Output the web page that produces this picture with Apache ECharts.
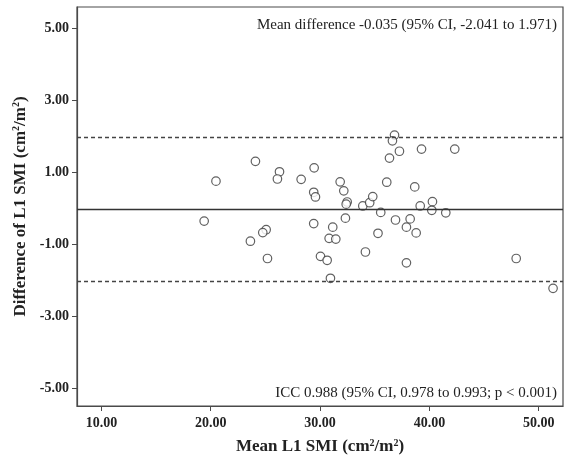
<!DOCTYPE html>
<html>
<head>
<meta charset="utf-8">
<script src="https://cdn.jsdelivr.net/npm/echarts@6/dist/echarts.min.js"></script>
<style>
  html, body { margin: 0; padding: 0; background: #fff; }
  #chart { width: 570px; height: 461px; }
</style>
</head>
<body>
<div id="chart"></div>
<script>
// Bland-Altman data
const meanSmi = [
  19.40, 20.48, 24.09, 26.29, 26.10, 28.27, 23.63, 25.07, 24.76, 25.19,
  29.46, 29.42, 29.58, 31.84, 32.17, 32.48, 32.39, 32.32, 29.42, 31.16,
  30.83, 31.44, 30.04, 30.65, 30.95, 33.91, 34.54, 34.82, 35.55, 35.30,
  34.15, 36.10, 36.90, 36.81, 36.62, 37.26, 36.35, 39.28, 42.32, 38.66,
  39.16, 40.28, 40.22, 41.50, 38.24, 37.90, 38.79, 37.90, 47.94, 51.31
]
const diffSmi = [
  -0.36, 0.75, 1.30, 1.01, 0.81, 0.80, -0.92, -0.60, -0.68, -1.40,
  1.12, 0.44, 0.31, 0.73, 0.48, 0.17, 0.11, -0.28, -0.43, -0.53,
  -0.84, -0.86, -1.34, -1.45, -1.95, 0.06, 0.15, 0.32, -0.12, -0.70,
  -1.22, 0.72, -0.33, 2.03, 1.87, 1.58, 1.39, 1.64, 1.64, 0.59,
  0.06, 0.18, -0.06, -0.13, -0.30, -0.53, -0.69, -1.52, -1.40, -2.23
]
const meanDiff = -0.035
const limitsOfAgreement = [1.971, -2.041]

const xTicks = [10, 20, 30, 40, 50]
const yTicks = [5, 3, 1, -1, -3, -5]

const topNote = 'Mean difference -0.035 (95% CI, -2.041 to 1.971)'
const bottomNote = 'ICC 0.988 (95% CI, 0.978 to 0.993; p < 0.001)'

const serif = '"Liberation Serif", "Times New Roman", serif'
const axisColor = '#4a4a4a'

const chart = echarts.init(document.getElementById('chart'))

const points = meanSmi.map((x, i) => [x, diffSmi[i]])

const supStyle = {
  fontFamily: serif, fontWeight: 'bold', fontSize: 10, color: '#222',
  verticalAlign: 'top', padding: [0, 0, 8, 0]
}

chart.setOption({
  backgroundColor: '#fff',
  animation: false,
  grid: {
    left: 77, right: 7, top: 7, bottom: 55,
    show: true, borderColor: axisColor, borderWidth: 1.2
  },
  xAxis: {
    type: 'value',
    min: 7.77, max: 52.22,
    splitLine: { show: false },
    axisLine: { show: true, onZero: false, lineStyle: { color: axisColor, width: 1.2 } },
    axisTick: { show: true, length: 5, customValues: xTicks, lineStyle: { color: axisColor } },
    axisLabel: {
      customValues: xTicks,
      margin: 10,
      formatter: v => v.toFixed(2),
      fontFamily: serif, fontWeight: 'bold', fontSize: 14, color: '#222'
    },
    name: 'Mean L1 SMI (cm{sup|2}/m{sup|2})',
    nameLocation: 'middle',
    nameGap: 32,
    nameTextStyle: {
      fontFamily: serif, fontWeight: 'bold', fontSize: 17, color: '#222',
      rich: { sup: supStyle }
    }
  },
  yAxis: {
    type: 'value',
    min: -5.5, max: 5.59,
    splitLine: { show: false },
    axisLine: { show: true, onZero: false, lineStyle: { color: axisColor, width: 1.2 } },
    axisTick: { show: true, length: 5, customValues: yTicks, lineStyle: { color: axisColor } },
    axisLabel: {
      customValues: yTicks,
      margin: 8,
      formatter: v => v.toFixed(2),
      fontFamily: serif, fontWeight: 'bold', fontSize: 14, color: '#222'
    },
    name: 'Difference of L1 SMI (cm{sup|2}/m{sup|2})',
    nameLocation: 'middle',
    nameGap: 45,
    nameTextStyle: {
      fontFamily: serif, fontWeight: 'bold', fontSize: 17, color: '#222',
      rich: { sup: supStyle }
    }
  },
  graphic: [
    {
      type: 'text', right: 13, top: 18,
      style: { text: topNote, font: '15px ' + serif, fill: '#222' }
    },
    {
      type: 'text', right: 13, top: 386,
      style: { text: bottomNote, font: '15px ' + serif, fill: '#222' }
    }
  ],
  series: [{
    type: 'scatter',
    data: points,
    symbol: 'circle',
    symbolSize: 8.5,
    itemStyle: { color: '#fff', borderColor: '#3a3a3a', borderWidth: 1.2 },
    silent: true,
    z: 3,
    markLine: {
      silent: true,
      symbol: 'none',
      label: { show: false },
      data: [
        { yAxis: meanDiff, lineStyle: { type: 'solid', color: '#333', width: 1.3 } },
        { yAxis: limitsOfAgreement[0], lineStyle: { type: [4, 3], color: '#444', width: 1.4 } },
        { yAxis: limitsOfAgreement[1], lineStyle: { type: [4, 3], color: '#444', width: 1.4 } }
      ]
    }
  }]
})
</script>
</body>
</html>
